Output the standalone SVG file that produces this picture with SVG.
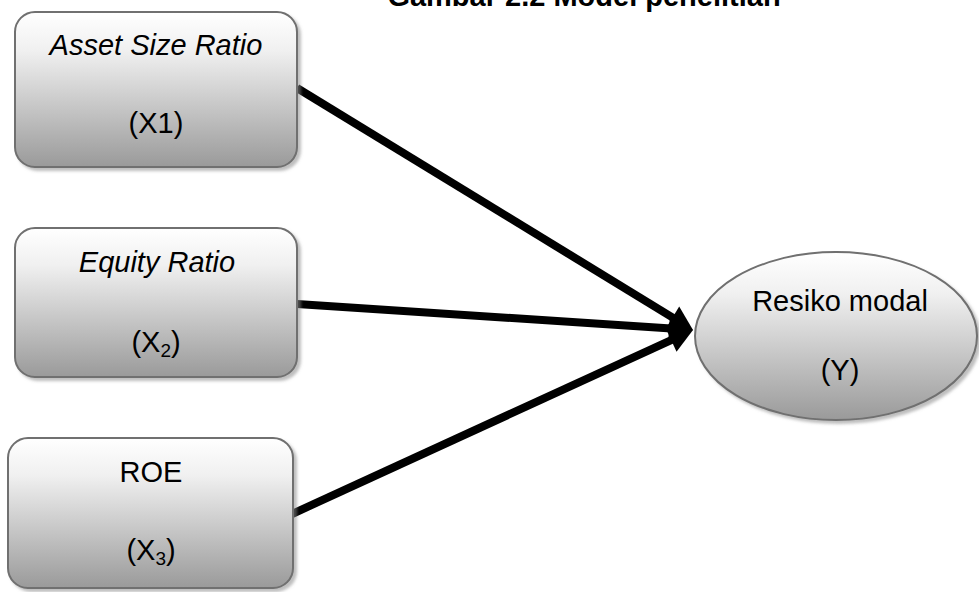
<svg xmlns="http://www.w3.org/2000/svg" width="979" height="592" viewBox="0 0 979 592">
<style>
text{font-family:"Liberation Sans",Arial,sans-serif;font-size:29px;fill:#000;text-anchor:middle}
.it{font-style:italic}
.title{font-weight:bold}
.node{fill:url(#g);stroke:#6f6f6f;stroke-width:2;filter:url(#sh)}
.sub{font-size:19px}
.conn{stroke:#000;stroke-width:8;fill:none;marker-end:url(#ah)}
</style>
<defs>
<linearGradient id="g" x1="0" y1="0" x2="0" y2="1">
<stop offset="0" stop-color="#ffffff"/>
<stop offset="0.25" stop-color="#f0f0f0"/>
<stop offset="1" stop-color="#9a9a9a"/>
</linearGradient>
<filter id="sh" x="-10%" y="-10%" width="125%" height="130%">
<feDropShadow dx="3" dy="3" stdDeviation="1.5" flood-color="#888" flood-opacity="0.55"/>
</filter>
<marker id="ah" markerWidth="3.2" markerHeight="3.6" refX="0.75" refY="0" viewBox="0 -1.8 3.2 3.6" orient="auto" markerUnits="strokeWidth" overflow="visible">
<path d="M0,-1.6 L3,0 L0,1.6 z" fill="#000"/>
</marker>
</defs>
<text class="title" x="584" y="6">Gambar 2.2 Model penelitian</text>
<g id="connectors">
<line class="conn" x1="297" y1="88" x2="677.65" y2="320.6"/>
<line class="conn" x1="297" y1="304" x2="675.04" y2="328.82"/>
<line class="conn" x1="292" y1="514" x2="676.65" y2="337.52"/>
</g>
<g id="x1">
<rect class="node" x="15" y="12" width="282" height="155" rx="20"/>
<text class="it" x="156" y="55">Asset Size Ratio</text>
<text x="156" y="133">(X1)</text>
</g>
<g id="x2">
<rect class="node" x="15" y="228" width="282" height="149" rx="20"/>
<text class="it" x="157" y="272">Equity Ratio</text>
<text x="156" y="352">(X<tspan class="sub" dy="5">2</tspan><tspan dy="-5">)</tspan></text>
</g>
<g id="x3">
<rect class="node" x="8" y="438" width="285" height="150" rx="20"/>
<text x="151" y="482">ROE</text>
<text x="151" y="560">(X<tspan class="sub" dy="5">3</tspan><tspan dy="-5">)</tspan></text>
</g>
<g id="y">
<ellipse class="node" cx="836" cy="336" rx="141" ry="84"/>
<text x="840" y="311">Resiko modal</text>
<text x="840" y="380">(Y)</text>
</g>
</svg>
